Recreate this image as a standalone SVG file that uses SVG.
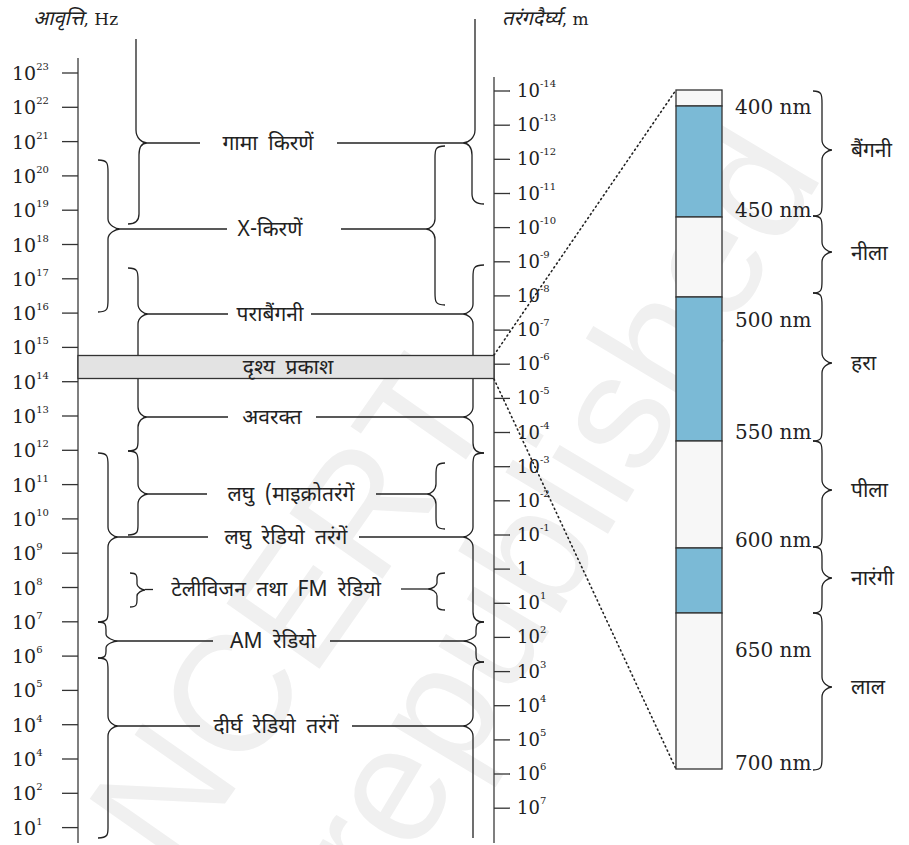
<svg xmlns="http://www.w3.org/2000/svg" width="909" height="845" viewBox="0 0 909 845">
<style>
.ax{stroke:#555;stroke-width:1.5;fill:none}
.tk{stroke:#333;stroke-width:1.3}
.br{stroke:#222;stroke-width:1.3;fill:none}
.ln{stroke:#222;stroke-width:1.3}
.num{font-family:"DejaVu Serif","Liberation Serif",serif;font-size:19px;fill:#222}
.numr{font-family:"DejaVu Serif","Liberation Serif",serif;font-size:18px;fill:#222}
.sup{font-size:10px}
.hi{font-family:"Noto Sans Devanagari","Noto Serif Devanagari","Lohit Devanagari","Liberation Serif",serif;font-size:21px;fill:#222;word-spacing:5px}
.hd{font-family:"Noto Sans Devanagari","Noto Serif Devanagari","Lohit Devanagari","Liberation Serif",serif;font-size:20px;fill:#222}
.lat{font-family:"DejaVu Serif","Liberation Serif",serif;font-size:17px}
.nm{font-family:"DejaVu Serif","Liberation Serif",serif;font-size:20px;fill:#222}
.dot{stroke:#222;stroke-width:1.6;stroke-dasharray:1.2 3.4;stroke-linecap:round;fill:none}
.wm{font-family:"Liberation Sans",Arial,sans-serif;font-size:165px;fill:#f0f0f0}
.blue{fill:#7bbad6;stroke:#333;stroke-width:1.3}
.wht{fill:#f7f7f7;stroke:#333;stroke-width:1.3}
</style>
<rect width="909" height="845" fill="#fff"/>
<g id="watermark">
<text class="wm" transform="translate(175,875) rotate(-55)">NCERT</text>
<text class="wm" transform="translate(385,905) rotate(-59)">republished</text>
</g>
<g id="headers">
<text class="hd" x="33" y="25"><tspan font-style="italic">आवृत्ति</tspan><tspan class="lat">, Hz</tspan></text>
<text class="hd" x="502" y="25"><tspan font-style="italic">तरंगदैर्घ्य</tspan><tspan class="lat">, m</tspan></text>
</g>
<g id="freq-axis">
<line class="ax" x1="78" y1="58" x2="78" y2="843"/>
<g class="tk">
<line x1="62" y1="73" x2="78" y2="73"/><line x1="62" y1="107.3" x2="78" y2="107.3"/><line x1="62" y1="141.6" x2="78" y2="141.6"/><line x1="62" y1="175.9" x2="78" y2="175.9"/><line x1="62" y1="210.2" x2="78" y2="210.2"/><line x1="62" y1="244.5" x2="78" y2="244.5"/><line x1="62" y1="278.8" x2="78" y2="278.8"/><line x1="62" y1="313.1" x2="78" y2="313.1"/><line x1="62" y1="347.4" x2="78" y2="347.4"/><line x1="62" y1="381.7" x2="78" y2="381.7"/><line x1="62" y1="416" x2="78" y2="416"/><line x1="62" y1="450.3" x2="78" y2="450.3"/><line x1="62" y1="484.6" x2="78" y2="484.6"/><line x1="62" y1="518.9" x2="78" y2="518.9"/><line x1="62" y1="553.2" x2="78" y2="553.2"/><line x1="62" y1="587.5" x2="78" y2="587.5"/><line x1="62" y1="621.8" x2="78" y2="621.8"/><line x1="62" y1="656.1" x2="78" y2="656.1"/><line x1="62" y1="690.4" x2="78" y2="690.4"/><line x1="62" y1="724.7" x2="78" y2="724.7"/><line x1="62" y1="759" x2="78" y2="759"/><line x1="62" y1="793.3" x2="78" y2="793.3"/><line x1="62" y1="827.6" x2="78" y2="827.6"/>
</g>
<g class="num">
<text x="12" y="80">10<tspan class="sup" dy="-10">23</tspan></text>
<text x="12" y="114.3">10<tspan class="sup" dy="-10">22</tspan></text>
<text x="12" y="148.6">10<tspan class="sup" dy="-10">21</tspan></text>
<text x="12" y="182.9">10<tspan class="sup" dy="-10">20</tspan></text>
<text x="12" y="217.2">10<tspan class="sup" dy="-10">19</tspan></text>
<text x="12" y="251.5">10<tspan class="sup" dy="-10">18</tspan></text>
<text x="12" y="285.8">10<tspan class="sup" dy="-10">17</tspan></text>
<text x="12" y="320.1">10<tspan class="sup" dy="-10">16</tspan></text>
<text x="12" y="354.4">10<tspan class="sup" dy="-10">15</tspan></text>
<text x="12" y="388.7">10<tspan class="sup" dy="-10">14</tspan></text>
<text x="12" y="423">10<tspan class="sup" dy="-10">13</tspan></text>
<text x="12" y="457.3">10<tspan class="sup" dy="-10">12</tspan></text>
<text x="12" y="491.6">10<tspan class="sup" dy="-10">11</tspan></text>
<text x="12" y="525.9">10<tspan class="sup" dy="-10">10</tspan></text>
<text x="12" y="560.2">10<tspan class="sup" dy="-10">9</tspan></text>
<text x="12" y="594.5">10<tspan class="sup" dy="-10">8</tspan></text>
<text x="12" y="628.8">10<tspan class="sup" dy="-10">7</tspan></text>
<text x="12" y="663.1">10<tspan class="sup" dy="-10">6</tspan></text>
<text x="12" y="697.4">10<tspan class="sup" dy="-10">5</tspan></text>
<text x="12" y="731.7">10<tspan class="sup" dy="-10">4</tspan></text>
<text x="12" y="766">10<tspan class="sup" dy="-10">4</tspan></text>
<text x="12" y="800.3">10<tspan class="sup" dy="-10">2</tspan></text>
<text x="12" y="834.6">10<tspan class="sup" dy="-10">1</tspan></text>
</g>
</g>
<g id="wave-axis">
<line class="ax" x1="494" y1="77" x2="494" y2="843"/>
<g class="tk">
<line x1="494" y1="91" x2="510" y2="91"/><line x1="494" y1="125.2" x2="510" y2="125.2"/><line x1="494" y1="159.3" x2="510" y2="159.3"/><line x1="494" y1="193.5" x2="510" y2="193.5"/><line x1="494" y1="227.6" x2="510" y2="227.6"/><line x1="494" y1="261.8" x2="510" y2="261.8"/><line x1="494" y1="295.9" x2="510" y2="295.9"/><line x1="494" y1="330.1" x2="510" y2="330.1"/><line x1="494" y1="364.2" x2="510" y2="364.2"/><line x1="494" y1="398.4" x2="510" y2="398.4"/><line x1="494" y1="432.5" x2="510" y2="432.5"/><line x1="494" y1="466.7" x2="510" y2="466.7"/><line x1="494" y1="500.8" x2="510" y2="500.8"/><line x1="494" y1="535" x2="510" y2="535"/><line x1="494" y1="569.1" x2="510" y2="569.1"/><line x1="494" y1="603.3" x2="510" y2="603.3"/><line x1="494" y1="637.4" x2="510" y2="637.4"/><line x1="494" y1="671.6" x2="510" y2="671.6"/><line x1="494" y1="705.7" x2="510" y2="705.7"/><line x1="494" y1="739.9" x2="510" y2="739.9"/><line x1="494" y1="774" x2="510" y2="774"/><line x1="494" y1="808.2" x2="510" y2="808.2"/>
</g>
<g class="numr">
<text x="517" y="97">10<tspan class="sup" dy="-10">-14</tspan></text>
<text x="517" y="131.2">10<tspan class="sup" dy="-10">-13</tspan></text>
<text x="517" y="165.3">10<tspan class="sup" dy="-10">-12</tspan></text>
<text x="517" y="199.5">10<tspan class="sup" dy="-10">-11</tspan></text>
<text x="517" y="233.6">10<tspan class="sup" dy="-10">-10</tspan></text>
<text x="517" y="267.8">10<tspan class="sup" dy="-10">-9</tspan></text>
<text x="517" y="301.9">10<tspan class="sup" dy="-10">-8</tspan></text>
<text x="517" y="336.1">10<tspan class="sup" dy="-10">-7</tspan></text>
<text x="517" y="370.2">10<tspan class="sup" dy="-10">-6</tspan></text>
<text x="517" y="404.4">10<tspan class="sup" dy="-10">-5</tspan></text>
<text x="517" y="438.5">10<tspan class="sup" dy="-10">-4</tspan></text>
<text x="517" y="472.7">10<tspan class="sup" dy="-10">-3</tspan></text>
<text x="517" y="506.8">10<tspan class="sup" dy="-10">-2</tspan></text>
<text x="517" y="541">10<tspan class="sup" dy="-10">-1</tspan></text>
<text x="517" y="575.1">1</text>
<text x="517" y="609.3">10<tspan class="sup" dy="-10">1</tspan></text>
<text x="517" y="643.4">10<tspan class="sup" dy="-10">2</tspan></text>
<text x="517" y="677.6">10<tspan class="sup" dy="-10">3</tspan></text>
<text x="517" y="711.7">10<tspan class="sup" dy="-10">4</tspan></text>
<text x="517" y="745.9">10<tspan class="sup" dy="-10">5</tspan></text>
<text x="517" y="780">10<tspan class="sup" dy="-10">6</tspan></text>
<text x="517" y="814.2">10<tspan class="sup" dy="-10">7</tspan></text>
</g>
</g>
<g id="connectors">
<g class="br">
<path d="M136,39 L136,130 C136,138 142,143 147,143 C142,143 139,147 139,155 L139,214 C139,220 136,224 128,224"/>
<path d="M98,160 C108,160 108,164 108,172 L108,219 C108,225 116,229 120,229 C116,229 108,233 108,239 L108,300 C108,308 108,312 98,312"/>
<path d="M128,268 C138,268 138,272 138,280 L138,304 C138,310 144,314 148,314 C144,314 138,318 138,324 L138,362"/>
<path d="M138,372 L138,407 C138,413 143,417 147,417 C143,417 138,421 138,427 L138,441 C138,447 138,451 128,451"/>
<path d="M128,451 C138,451 138,455 138,463 L138,484 C138,490 144,494 148,494 C144,494 138,498 138,504 L138,525 C138,531 138,535 128,535"/>
<path d="M98,453 C108,453 108,457 108,465 L108,527 C108,533 114,537 118,537 C114,537 108,541 108,547 L108,612 C108,618 108,622 98,622"/>
<path d="M98,622 C106,622 106,625 106,630 L106,634 C106,638 114,641 118,641 C114,641 106,644 106,648 L106,651 C106,655 106,658 98,658"/>
<path d="M98,658 C108,658 108,662 108,670 L108,716 C108,722 114,726 118,726 C114,726 108,730 108,736 L108,828 C108,834 108,838 98,838"/>
<path d="M130,573 C137,573 137,576 137,580 L137,584 C137,587 142,590 145,590 C142,590 137,593 137,596 L137,600 C137,604 137,607 130,607"/>
<path d="M475,19 L475,130 C475,138 468,143 463,143 C468,143 472,147 472,155 L472,194 C472,200 476,204 484,204"/>
<path d="M445,146 C435,146 435,150 435,158 L435,219 C435,225 430,229 426,229 C430,229 435,233 435,239 L435,293 C435,301 435,305 445,305"/>
<path d="M484,265 C473,265 473,269 473,277 L473,304 C473,310 467,314 463,314 C467,314 473,318 473,324 L473,362"/>
<path d="M473,372 L473,407 C473,413 467,417 463,417 C467,417 473,421 473,427 L473,443 C473,449 476,453 484,453"/>
<path d="M445,463 C436,463 436,467 436,475 L436,484 C436,490 431,494 427,494 C431,494 436,498 436,504 L436,517 C436,525 436,529 445,529"/>
<path d="M484,453 C473,453 473,457 473,465 L473,527 C473,533 467,537 463,537 C467,537 473,541 473,547 L473,612 C473,618 476,622 484,622"/>
<path d="M484,622 C476,622 476,626 476,631 L476,634 C476,638 467,641 463,641 C467,641 476,644 476,649 L476,654 C476,659 476,662 484,662"/>
<path d="M484,662 C473,662 473,666 473,674 L473,716 C473,722 467,726 463,726 C467,726 473,730 473,736 L473,838"/>
<path d="M445,573 C437,573 437,576 437,580 L437,583 C437,586 432,589 428,589 C432,589 437,592 437,596 L437,603 C437,607 437,610 445,610"/>
<path d="M813,91 C822,91 822,95 822,103 L822,140 C822,146 828,150 832,150 C828,150 822,154 822,160 L822,204 C822,212 822,216 813,216"/>
<path d="M813,216 C822,216 822,220 822,228 L822,242 C822,248 828,252 832,252 C828,252 822,256 822,262 L822,281 C822,289 822,293 813,293"/>
<path d="M813,293 C822,293 822,297 822,305 L822,353 C822,359 828,363 832,363 C828,363 822,367 822,373 L822,429 C822,437 822,441 813,441"/>
<path d="M813,441 C822,441 822,445 822,453 L822,480 C822,486 828,490 832,490 C828,490 822,494 822,500 L822,535 C822,543 822,547 813,547"/>
<path d="M813,547 C822,547 822,551 822,559 L822,568 C822,574 828,578 832,578 C828,578 822,582 822,588 L822,601 C822,609 822,613 813,613"/>
<path d="M813,613 C822,613 822,617 822,625 L822,677 C822,683 828,687 832,687 C828,687 822,691 822,697 L822,758 C822,766 822,770 813,770"/>
</g>
<g class="ln">
<line x1="147" y1="143" x2="200" y2="143"/><line x1="337" y1="143" x2="463" y2="143"/>
<line x1="120" y1="229" x2="227" y2="229"/><line x1="341" y1="229" x2="426" y2="229"/>
<line x1="148" y1="314" x2="228" y2="314"/><line x1="311" y1="314" x2="463" y2="314"/>
<line x1="147" y1="417" x2="228" y2="417"/><line x1="316" y1="417" x2="463" y2="417"/>
<line x1="148" y1="494" x2="207" y2="494"/><line x1="376" y1="494" x2="427" y2="494"/>
<line x1="118" y1="537" x2="208" y2="537"/><line x1="359" y1="537" x2="463" y2="537"/>
<line x1="145" y1="589.5" x2="153" y2="589.5"/><line x1="401" y1="589" x2="428" y2="589"/>
<line x1="118" y1="641" x2="213" y2="641"/><line x1="330" y1="641" x2="463" y2="641"/>
<line x1="118" y1="726" x2="200" y2="726"/><line x1="352" y1="726" x2="463" y2="726"/>
</g>
<line class="dot" x1="494" y1="355" x2="676" y2="90"/>
<line class="dot" x1="494" y1="379" x2="676" y2="769"/>
</g>
<g id="visible-band">
<rect x="78" y="355.5" width="416" height="23" fill="#e3e3e3" stroke="#333" stroke-width="1.3"/>
<text class="hi" x="288" y="374" text-anchor="middle">दृश्य प्रकाश</text>
</g>
<g id="band-labels" class="hi" text-anchor="middle">
<text x="268" y="150">गामा किरणें</text>
<text x="270" y="236">X-किरणें</text>
<text x="270" y="321">पराबैंगनी</text>
<text x="272" y="424">अवरक्त</text>
<text x="291" y="501">लघु (माइक्रोतरंगें</text>
<text x="286" y="544">लघु रेडियो तरंगें</text>
<text x="276" y="596">टेलीविजन तथा FM रेडियो</text>
<text x="273" y="648">AM रेडियो</text>
<text x="276" y="733">दीर्घ रेडियो तरंगें</text>
</g>
<g id="spectrum-bar">
<rect class="wht" x="676" y="90" width="46" height="16"/>
<rect class="blue" x="676" y="106" width="46" height="111"/>
<rect class="wht" x="676" y="217" width="46" height="80"/>
<rect class="blue" x="676" y="297" width="46" height="144"/>
<rect class="wht" x="676" y="441" width="46" height="107"/>
<rect class="blue" x="676" y="548" width="46" height="65"/>
<rect class="wht" x="676" y="613" width="46" height="156"/>
</g>
<g id="nm-labels" class="nm">
<text x="735" y="114">400 nm</text>
<text x="735" y="217">450 nm</text>
<text x="735" y="327">500 nm</text>
<text x="735" y="439">550 nm</text>
<text x="735" y="547">600 nm</text>
<text x="735" y="657">650 nm</text>
<text x="735" y="770">700 nm</text>
</g>
<g id="colour-labels" class="hi">
<text x="851" y="157">बैंगनी</text>
<text x="851" y="260">नीला</text>
<text x="851" y="370">हरा</text>
<text x="851" y="497">पीला</text>
<text x="851" y="585">नारंगी</text>
<text x="851" y="694">लाल</text>
</g>
</svg>
